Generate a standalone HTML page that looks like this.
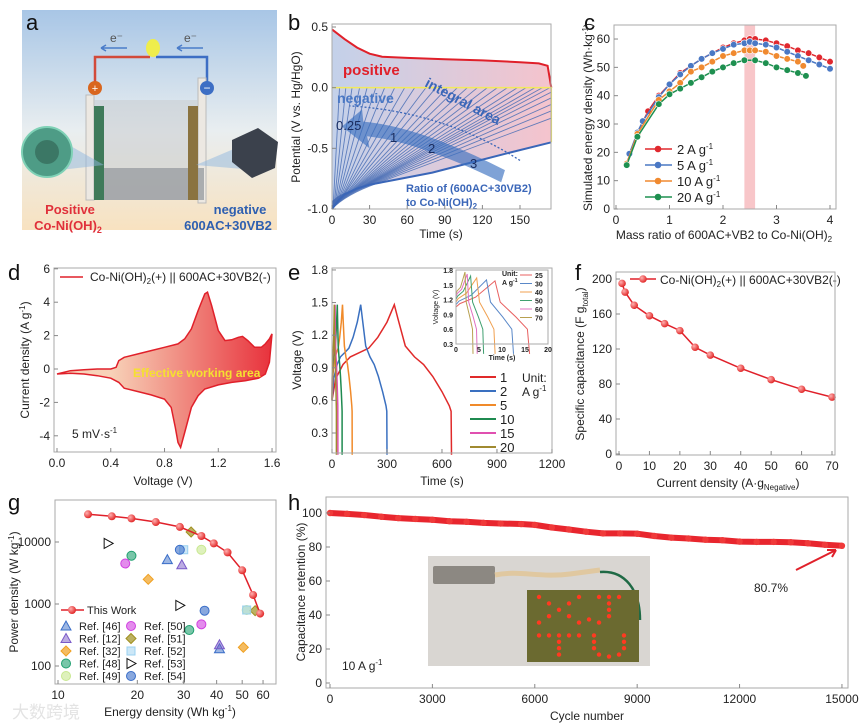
<!DOCTYPE html>
<html><head><meta charset="utf-8"><style>
html,body{margin:0;padding:0;background:#fff;width:865px;height:727px;overflow:hidden}
svg{font-family:"Liberation Sans","Noto Sans CJK SC",sans-serif;display:block}
</style></head><body>
<svg id="fig" width="865" height="727" viewBox="0 0 865 727" xmlns="http://www.w3.org/2000/svg">
<defs>
<linearGradient id="bgA" x1="0" y1="0" x2="0" y2="1"><stop offset="0" stop-color="#a8c6e6"/><stop offset="0.55" stop-color="#e9eef0"/><stop offset="1" stop-color="#f8e2c0"/></linearGradient>
<linearGradient id="fillB" x1="0" y1="0" x2="1" y2="0"><stop offset="0" stop-color="#b9c9e6"/><stop offset="1" stop-color="#f3b9c4"/></linearGradient>
<linearGradient id="fillD" x1="0" y1="0" x2="1" y2="0"><stop offset="0.25" stop-color="#f7d2b8"/><stop offset="1" stop-color="#e8323c"/></linearGradient>
<radialGradient id="ballR" cx="0.35" cy="0.35" r="0.7"><stop offset="0" stop-color="#ffb0b0"/><stop offset="1" stop-color="#e02020"/></radialGradient>
<clipPath id="clipB"><rect x="332" y="20" width="219" height="190"/></clipPath>
</defs>
<g id="panelA">
<rect x="22" y="10" width="255" height="220" fill="url(#bgA)"/>
<text x="26" y="30" font-size="22" fill="#111">a</text>
<path d="M95,82 V57 H150" stroke="#d24a3a" stroke-width="2.5" fill="none"/>
<path d="M156,57 H207 V82" stroke="#3d6ec4" stroke-width="2.5" fill="none"/>
<ellipse cx="153" cy="48" rx="7" ry="9" fill="#f4ef3a" opacity="0.9"/>
<text x="110" y="42" font-size="12" fill="#555">e⁻</text>
<text x="184" y="42" font-size="12" fill="#555">e⁻</text>
<path d="M127,48 H101 M101,48 l5,-3 M101,48 l5,3" stroke="#4a7cc9" stroke-width="1.5" fill="none"/>
<path d="M203,48 H177 M177,48 l5,-3 M177,48 l5,3" stroke="#4a7cc9" stroke-width="1.5" fill="none"/>
<rect x="86" y="95" width="8" height="105" fill="#ece8e2" stroke="#bbb"/>
<rect x="198" y="78" width="8" height="125" fill="#ece8e2" stroke="#bbb"/>
<rect x="94" y="100" width="104" height="100" fill="#c9ccd0" opacity="0.55"/>
<rect x="94" y="168" width="110" height="32" fill="#9a9ea2" opacity="0.8"/>
<rect x="94" y="106" width="10" height="94" fill="#3f7a5a"/>
<rect x="188" y="106" width="10" height="94" fill="#8a7340"/>
<circle cx="95" cy="88" r="7" fill="#d9661e"/>
<text x="95" y="92" font-size="11" fill="#fff" text-anchor="middle">+</text>
<circle cx="207" cy="88" r="7" fill="#3d6ec4"/>
<text x="207" y="92" font-size="12" fill="#fff" text-anchor="middle">−</text>
<path d="M60,140 L104,165 L60,170 Z" fill="#8fb7e0" opacity="0.5"/>
<path d="M255,140 L196,165 L255,170 Z" fill="#8fb7e0" opacity="0.5"/>
<circle cx="47" cy="152" r="25" fill="#4e9c86" stroke="#7fd1b6" stroke-width="2"/>
<circle cx="47" cy="152" r="12" fill="#2f5f50" opacity="0.6"/>
<path d="M232,140 L258,128 L278,142 L275,168 L252,178 L232,162 Z" fill="#3b414c"/>
<text x="70" y="214" font-size="13" font-weight="bold" fill="#e0303a" text-anchor="middle">Positive</text>
<text x="68" y="230" font-size="13" font-weight="bold" fill="#e0303a" text-anchor="middle">Co-Ni(OH)<tspan font-size="9" dy="3">2</tspan></text>
<text x="240" y="214" font-size="13" font-weight="bold" fill="#2e5fb0" text-anchor="middle">negative</text>
<text x="228" y="230" font-size="13" font-weight="bold" fill="#2e5fb0" text-anchor="middle">600AC+30VB2</text>
</g>
<g id="panels"></g>
</svg>
<script>
// ---------- data ----------
const bPosT=[0,10,20,30,40,60,90,120,150,165,172,175];
const bPosV=[0.48,0.40,0.33,0.28,0.255,0.245,0.235,0.225,0.21,0.2,0.18,0.0];
const bEnvT=[0,5,10,20,30,50,80,110,140,175];
const bEnvV=[-1,-0.93,-0.88,-0.83,-0.8,-0.76,-0.7,-0.62,-0.54,-0.45];
const bEndT=[6,11,16,22,28,35,42,50,58,66,75,83,92,100,108,116,124,132,140,148,155,162,168,174,182,192,205,220,240];
const cX=[0.2,0.4,0.6,0.8,1.0,1.2,1.4,1.6,1.8,2.0,2.2,2.4,2.5,2.6,2.8,3.0,3.2,3.4,3.6,3.8,4.0];
const c2A=[16,27,34.5,40,44,48,50.5,53,55,57,58.5,59.5,60,60,59.5,58.5,57.5,56,55,53.5,52];
const c5X=[0.25,0.4,0.5,0.8,1.0,1.2,1.4,1.6,1.8,2.0,2.2,2.4,2.5,2.6,2.8,3.0,3.2,3.4,3.6,3.8,4.0];
const c5A=[19.5,27,31,39.5,44,47.5,50.5,53,55,56.5,58,58.5,59,58.5,58,57,55.5,54,52.5,51,49.5];
const c10X=[0.2,0.4,0.8,1.0,1.2,1.4,1.6,1.8,2.0,2.2,2.4,2.5,2.6,2.8,3.0,3.2,3.4,3.5];
const c10A=[16,26.5,38.5,41.5,44.5,48.5,50,52,54,55,56,56,56,55.5,54,53,52,50.5];
const c20X=[0.2,0.4,0.8,1.0,1.2,1.4,1.6,1.8,2.0,2.2,2.4,2.6,2.8,3.0,3.2,3.4,3.55];
const c20A=[15.5,25.5,37,40.5,42.5,44.5,46.5,48.5,50,51.5,52.5,52.5,51.5,50,49,48,47];
const dUpV=[0,0.1,0.2,0.3,0.4,0.44,0.46,0.5,0.6,0.7,0.8,0.9,0.95,1.0,1.05,1.1,1.12,1.15,1.2,1.25,1.3,1.35,1.38,1.42,1.47,1.52,1.55,1.58,1.6];
const dUpI=[-0.3,-0.1,-0.05,0,0,0.1,0.5,0.7,0.9,1.1,1.3,1.5,1.8,2.4,3.5,4.5,4.6,3.8,2.3,1.7,1.75,1.9,1.95,1.7,1.3,1.3,1.5,1.8,2.1];
const dLoV=[1.6,1.58,1.55,1.5,1.4,1.3,1.2,1.1,1.05,1.0,0.95,0.92,0.9,0.88,0.85,0.8,0.7,0.6,0.5,0.46,0.4,0.3,0.2,0.1,0];
const dLoI=[2.1,0.4,-0.3,-0.55,-0.7,-0.8,-0.95,-1.2,-1.6,-2.3,-3.8,-4.7,-4.4,-3.5,-2.3,-1.8,-1.55,-1.35,-1.15,-0.8,-0.55,-0.4,-0.3,-0.25,-0.3];
const eShapeT=[0,20,60,100,150,200,250,300,340,360,400,450,500,550,600,640,650,652];
const eShapeV=[0.6,0.8,0.93,1.0,1.04,1.08,1.18,1.32,1.48,1.35,1.1,1.0,0.93,0.82,0.68,0.55,0.5,0.1];
const eRates=['1','2','5','10','15','20'];
const eEnds=[652,300,110,55,32,24];
const eColors=['#e02a2a','#3a70c0','#f08a2a','#1f8a50','#e050b0','#a08a30'];
const iRates=['25','30','40','50','60','70'];
const iEnds=[16,12.5,8.5,6,4.6,3.7];
const iPeaks=[1.58,1.6,1.64,1.68,1.72,1.76];
const iColors=['#e86060','#5a88c8','#f0a050','#40a070','#e070c0','#b8a050'];
const fX=[1,2,5,10,15,20,25,30,40,50,60,70];
const fY=[195,185,170,158,149,141,122,113,98,85,74,65];
const gWorkE=[13,16,19,23.5,29,35,39,44,50,55,58.5];
const gWorkP=[28000,26000,24000,21000,17500,12500,9500,6800,3500,1400,700];
const gRefNames=['Ref. [46]','Ref. [12]','Ref. [32]','Ref. [48]','Ref. [49]','Ref. [50]','Ref. [51]','Ref. [52]','Ref. [53]','Ref. [54]'];
const gRefE1=[26,29.5,22,19,35,18,32,30,15.5,29];
const gRefP1=[5200,4300,2500,6000,7500,4500,14500,7500,9500,7500];
const gRefE2=[41,41,50.5,31.5,52,35,56,52,29,36];
const gRefP2=[190,220,200,380,800,470,780,800,950,780];
const hCyc=[0,500,1000,1500,2000,2500,3000,3500,4000,4500,5000,5600,6000,6500,7000,7500,8000,8500,9000,9500,10000,10500,11000,11500,12000,12500,13000,13500,14000,14500,15000];
const hRet=[100,99.5,98.8,97.8,97,96.5,96,95.2,94.8,94.2,93.8,93.5,93,91.5,90.3,89,88,88,87.8,86.5,85.5,85,84.3,84,83.2,83,83,82.8,82.2,81.3,80.7];

// ---------- helpers ----------
const NS='http://www.w3.org/2000/svg';
const root=document.getElementById('panels');
function mk(tag,attrs,name,parent){
  const el=document.createElementNS(NS,tag);
  for(const k in attrs) el.setAttribute(k,attrs[k]);
  
  
  (parent||root).appendChild(el);
  return el;
}
function txt(x,y,s,name,extra){
  const el=mk('text',Object.assign({x:x,y:y,'font-size':'11',fill:'#222'},extra||{}),name);
  el.innerHTML=s; return el;
}
function pathOf(xs,ys,fx,fy){return xs.map((v,i)=>(i?'L':'M')+fx(v).toFixed(1)+','+fy(ys[i]).toFixed(1)).join('');}
function frame(x0,y0,x1,y1,name){
  mk('rect',{x:x0,y:y0,width:x1-x0,height:y1-y0,fill:'none',stroke:'#aaa','stroke-width':1},name);
}
function yTicks(vals,labels,fy,xl,name){
  vals.forEach((v,i)=>{
    mk('line',{x1:xl,x2:xl+4,y1:fy(v),y2:fy(v),stroke:'#888'},name+'-tick');
    txt(xl-4,fy(v)+4,labels[i],name+'-label',{'text-anchor':'end','font-size':'12'});
  });
}
function xTicks(vals,labels,fx,yb,name){
  vals.forEach((v,i)=>{
    mk('line',{x1:fx(v),x2:fx(v),y1:yb,y2:yb-4,stroke:'#888'},name+'-tick');
    txt(fx(v),yb+15,labels[i],name+'-label',{'text-anchor':'middle','font-size':'12'});
  });
}
function vtitle(x,y,s,name,fs){return txt(x,y,s,name,{'text-anchor':'middle',transform:'rotate(-90 '+x+' '+y+')','font-size':fs||'12'});}
function interp(xs,ys,x){for(let i=1;i<xs.length;i++){if(x<=xs[i]){const f=(x-xs[i-1])/(xs[i]-xs[i-1]);return ys[i-1]+f*(ys[i]-ys[i-1]);}}return ys[ys.length-1];}
const PL={'font-size':'22',fill:'#111'};

// ---------- panel b ----------
const Xb=t=>332+t*1.2533, Yb=v=>27+(0.5-v)*121.33;
txt(288,30,'b','panel-label-b',PL);
{
 let d=pathOf(bPosT,bPosV,Xb,Yb);
 for(let i=bEnvT.length-1;i>=0;i--) d+='L'+Xb(bEnvT[i]).toFixed(1)+','+Yb(bEnvV[i]).toFixed(1);
 mk('path',{d:d+'Z',fill:'url(#fillB)',opacity:0.85},'integral-area-fill');
 const g=mk('g',{'clip-path':'url(#clipB)'},'negative-curves');
 bEndT.forEach(te=>{
   const ts=te*0.15, vs=interp(bEnvT,bEnvV,ts);
   mk('path',{d:'M'+Xb(0)+','+Yb(-1)+'Q'+Xb(ts*0.3)+','+Yb(-0.88)+' '+Xb(ts)+','+Yb(vs)+'L'+Xb(te)+','+Yb(0),stroke:'#4a6fb5','stroke-width':0.9,fill:'none',opacity:0.85},'negative-curve',g);
 });
 mk('path',{d:pathOf(bEnvT,bEnvV,Xb,Yb),stroke:'#3a66b8','stroke-width':2,fill:'none'},'negative-envelope');
 mk('path',{d:pathOf(bPosT,bPosV,Xb,Yb),stroke:'#e0202a','stroke-width':2,fill:'none'},'positive-curve');
 mk('path',{d:'M'+Xb(0)+','+Yb(0)+'H'+Xb(175)+'V'+Yb(-0.45),stroke:'#f2ea5a','stroke-width':1.5,fill:'none'},'zero-line');
 mk('path',{d:'M'+Xb(135)+','+Yb(-0.78)+'Q'+Xb(70)+','+Yb(-0.45)+' '+Xb(28)+','+Yb(-0.4)+'L'+Xb(30)+','+Yb(-0.5)+'L'+Xb(8)+','+Yb(-0.32)+'L'+Xb(24)+','+Yb(-0.18)+'L'+Xb(25)+','+Yb(-0.28)+'Q'+Xb(70)+','+Yb(-0.32)+' '+Xb(138)+','+Yb(-0.68)+'Z',fill:'#3a70c0',opacity:0.65},'ratio-arrow');
 mk('path',{d:'M'+Xb(150)+','+Yb(-0.6)+'Q'+Xb(90)+','+Yb(-0.2)+' '+Xb(14)+','+Yb(-0.15),stroke:'#3a66b8','stroke-width':1.3,'stroke-dasharray':'2,2',fill:'none'},'dotted-arrow');
 txt(343,75,'positive','positive-label',{fill:'#e0202a','font-size':'15','font-weight':'bold'});
 txt(337,103,'negative','negative-label',{fill:'#4a78c4','font-size':'14','font-weight':'bold'});
 txt(424,86,'integral area','integral-area-label',{fill:'#3a66b8','font-size':'14','font-weight':'bold',transform:'rotate(28 424 86)'});
 txt(336,130,'0.25','ratio-label-025',{fill:'#1a2d60','font-size':'13'});
 txt(390,142,'1','ratio-label-1',{fill:'#1a2d60','font-size':'13'});
 txt(428,153,'2','ratio-label-2',{fill:'#1a2d60','font-size':'13'});
 txt(470,168,'3','ratio-label-3',{fill:'#1a2d60','font-size':'13'});
 txt(406,192,'Ratio of (600AC+30VB2)','ratio-caption',{fill:'#3a66b8','font-size':'11','font-weight':'bold'});
 txt(406,206,'to Co-Ni(OH)<tspan font-size="8" dy="3">2</tspan>','ratio-caption-2',{fill:'#3a66b8','font-size':'11','font-weight':'bold'});
 frame(332,24,551,209,'plot-frame-b');
 yTicks([0.5,0,-0.5,-1],['0.5','0.0','-0.5','-1.0'],Yb,332,'y-axis-b');
 xTicks([0,30,60,90,120,150],['0','30','60','90','120','150'],Xb,209,'x-axis-b');
 vtitle(300,117,'Potential (V vs. Hg/HgO)','y-axis-title-b');
 txt(441,238,'Time (s)','x-axis-title-b',{'text-anchor':'middle','font-size':'12'});
}

// ---------- panel c ----------
const Xc=r=>616+r*53.5, Yc=e=>209-e*2.833;
txt(584,30,'c','panel-label-c',PL);
mk('rect',{x:Xc(2.4),y:25,width:Xc(2.6)-Xc(2.4),height:184,fill:'#f6b8bc',opacity:0.8},'optimal-ratio-band');
const cSeries=[[cX,c2A,'#e0282e','2 A g<tspan font-size="8" dy="-5">-1</tspan>'],[c5X,c5A,'#4a78c4','5 A g<tspan font-size="8" dy="-5">-1</tspan>'],[c10X,c10A,'#f08a30','10 A g<tspan font-size="8" dy="-5">-1</tspan>'],[c20X,c20A,'#1e9050','20 A g<tspan font-size="8" dy="-5">-1</tspan>']];
cSeries.forEach((s,k)=>{
 mk('path',{d:pathOf(s[0],s[1],Xc,Yc),stroke:s[2],'stroke-width':1.5,fill:'none'},'series-line-c');
 s[0].forEach((x,i)=>mk('circle',{cx:Xc(x),cy:Yc(s[1][i]),r:3.3,fill:s[2],stroke:'#fff','stroke-width':0.6},'point-c'));
 const ly=149+k*16;
 mk('line',{x1:645,x2:672,y1:ly,y2:ly,stroke:s[2],'stroke-width':1.5},'legend-line-c');
 mk('circle',{cx:658,cy:ly,r:3.3,fill:s[2]},'legend-marker-c');
 txt(677,ly+5,s[3],'legend-entry-c',{'font-size':'13'});
});
frame(614,25,836,209,'plot-frame-c');
yTicks([0,10,20,30,40,50,60],['0','10','20','30','40','50','60'],Yc,614,'y-axis-c');
xTicks([0,1,2,3,4],['0','1','2','3','4'],Xc,209,'x-axis-c');
vtitle(592,117,'Simulated energy density (Wh·kg<tspan font-size="8" dy="-4">-1</tspan><tspan dy="4">)</tspan>','y-axis-title-c');
txt(724,239,'Mass ratio of 600AC+VB2 to Co-Ni(OH)<tspan font-size="8" dy="3">2</tspan>','x-axis-title-c',{'text-anchor':'middle','font-size':'12'});

// ---------- panel d ----------
const Xd=v=>57+v*134.4, Yd=i=>369-i*16.7;
txt(8,280,'d','panel-label-d',PL);
mk('path',{d:pathOf(dUpV,dUpI,Xd,Yd)+pathOf(dLoV,dLoI,Xd,Yd).replace('M','L')+'Z',fill:'url(#fillD)',stroke:'#e0202a','stroke-width':1.5},'cv-curve');
txt(133,377,'Effective working area','working-area-label',{fill:'#f5e030','font-size':'12','font-weight':'bold'});
mk('line',{x1:60,x2:83,y1:277,y2:277,stroke:'#e0202a','stroke-width':1.5},'legend-line-d');
txt(90,281,'Co-Ni(OH)<tspan font-size="8" dy="3">2</tspan><tspan dy="-3">(+) || 600AC+30VB2(-)</tspan>','legend-entry-d',{'font-size':'12'});
txt(72,438,'5 mV·s<tspan font-size="8" dy="-5">-1</tspan>','scan-rate-label',{'font-size':'12'});
frame(54,268,276,452,'plot-frame-d');
yTicks([6,4,2,0,-2,-4],['6','4','2','0','-2','-4'],Yd,54,'y-axis-d');
xTicks([0,0.4,0.8,1.2,1.6],['0.0','0.4','0.8','1.2','1.6'],Xd,452,'x-axis-d');
vtitle(29,360,'Current density (A g<tspan font-size="8" dy="-4">-1</tspan><tspan dy="4">)</tspan>','y-axis-title-d');
txt(163,485,'Voltage (V)','x-axis-title-d',{'text-anchor':'middle','font-size':'12'});

// ---------- panel e ----------
const Xe=t=>332+t*0.1833, Ye=v=>433-(v-0.3)*108.7;
txt(288,280,'e','panel-label-e',PL);
eRates.forEach((r,k)=>{
 const s=eEnds[k]/652;
 mk('path',{d:pathOf(eShapeT.map(t=>t*s),eShapeV,Xe,Ye),stroke:eColors[k],'stroke-width':1.5,fill:'none'},'gcd-curve-'+r);
 const ly=377+k*14;
 mk('line',{x1:470,x2:496,y1:ly,y2:ly,stroke:eColors[k],'stroke-width':2},'legend-line-e');
 txt(500,ly+5,r,'legend-entry-e',{'font-size':'13'});
});
txt(522,382,'Unit:','unit-label-e',{'font-size':'12'});
txt(522,396,'A g<tspan font-size="8" dy="-5">-1</tspan>','unit-value-e',{'font-size':'12'});
frame(332,268,552,453,'plot-frame-e');
yTicks([0.3,0.6,0.9,1.2,1.5,1.8],['0.3','0.6','0.9','1.2','1.5','1.8'],Ye,332,'y-axis-e');
xTicks([0,300,600,900,1200],['0','300','600','900','1200'],Xe,453,'x-axis-e');
vtitle(301,360,'Voltage (V)','y-axis-title-e');
txt(442,485,'Time (s)','x-axis-title-e',{'text-anchor':'middle','font-size':'12'});
// inset
const Xi=t=>456+t*4.6, Yi=v=>344-(v-0.3)*49.3;
iRates.forEach((r,k)=>{
 const e=iEnds[k], tp=e*0.53;
 const ts=[0,tp*0.1,tp*0.5,tp,tp+(e-tp)*0.15,tp+(e-tp)*0.6,e*0.97,e];
 const vs=[1.05+k*0.05,1.12+k*0.05,1.25+k*0.04,iPeaks[k],1.15,0.85,0.6,0.1];
 mk('path',{d:pathOf(ts,vs,Xi,Yi),stroke:iColors[k],'stroke-width':1,fill:'none'},'inset-gcd-curve-'+r);
 const ly=275+k*8.5;
 mk('line',{x1:520,x2:532,y1:ly,y2:ly,stroke:iColors[k],'stroke-width':1},'inset-legend-line');
 txt(535,ly+3,r,'inset-legend-entry',{'font-size':'7','font-weight':'bold'});
});
txt(502,276,'Unit:','inset-unit-label',{'font-size':'7','font-weight':'bold'});
txt(502,285,'A g<tspan font-size="5" dy="-3">-1</tspan>','inset-unit-value',{'font-size':'7','font-weight':'bold'});
frame(456,270,548,344,'inset-frame');
[0.3,0.6,0.9,1.2,1.5,1.8].forEach(v=>txt(453,Yi(v)+3,v.toFixed(1),'inset-y-label',{'text-anchor':'end','font-size':'7','font-weight':'bold'}));
[0,5,10,15,20].forEach(v=>txt(Xi(v),352,String(v),'inset-x-label',{'text-anchor':'middle','font-size':'7','font-weight':'bold'}));
vtitle(438,307,'Voltage (V)','inset-y-title','7');
txt(502,360,'Time (s)','inset-x-title',{'text-anchor':'middle','font-size':'7','font-weight':'bold'});

// ---------- panel f ----------
const Xf=j=>619+j*3.043, Yf=c=>454-c*0.875;
txt(575,280,'f','panel-label-f',PL);
mk('path',{d:pathOf(fX,fY,Xf,Yf),stroke:'#e0202a','stroke-width':1.5,fill:'none'},'capacitance-line');
fX.forEach((x,i)=>mk('circle',{cx:Xf(x),cy:Yf(fY[i]),r:3.8,fill:'url(#ballR)'},'capacitance-point'));
mk('line',{x1:630,x2:656,y1:279,y2:279,stroke:'#e0202a','stroke-width':1.5},'legend-line-f');
mk('circle',{cx:643,cy:279,r:3.8,fill:'url(#ballR)'},'legend-marker-f');
txt(660,284,'Co-Ni(OH)<tspan font-size="8" dy="3">2</tspan><tspan dy="-3">(+) || 600AC+30VB2(-)</tspan>','legend-entry-f',{'font-size':'12'});
frame(616,272,835,455,'plot-frame-f');
yTicks([0,40,80,120,160,200],['0','40','80','120','160','200'],Yf,616,'y-axis-f');
xTicks([0,10,20,30,40,50,60,70],['0','10','20','30','40','50','60','70'],Xf,455,'x-axis-f');
vtitle(584,364,'Specific capacitance (F g<tspan font-size="8" dy="4">total</tspan><tspan dy="-4">)</tspan>','y-axis-title-f');
txt(728,487,'Current density (A·g<tspan font-size="8" dy="3">Negative</tspan><tspan dy="-3">)</tspan>','x-axis-title-f',{'text-anchor':'middle','font-size':'12'});

// ---------- panel g ----------
const Xg=E=>58+Math.log10(E/10)*263.5, Yg=P=>542-(Math.log10(P)-4)*62;
txt(8,510,'g','panel-label-g',PL);
const refCol=['#3a6ec8','#7a5ac8','#f0a020','#20a070','#c8e890','#d040e0','#a09020','#9ad0f0','#111111','#3a6ec8'];
const refShape=['tri','tri','dia','circ','circ','circ','dia','sq','tr','circ'];
function marker(shape,x,y,c,name){
 const s=5;
 if(shape==='tri') return mk('path',{d:`M${x},${y-s}L${x+s},${y+s*0.8}L${x-s},${y+s*0.8}Z`,fill:c,stroke:c,'fill-opacity':0.5},name);
 if(shape==='dia') return mk('path',{d:`M${x},${y-s}L${x+s},${y}L${x},${y+s}L${x-s},${y}Z`,fill:c,stroke:c,'fill-opacity':0.7},name);
 if(shape==='sq') return mk('rect',{x:x-4,y:y-4,width:8,height:8,fill:c,stroke:c,'fill-opacity':0.5},name);
 if(shape==='tr') return mk('path',{d:`M${x-4},${y-5}L${x+5},${y}L${x-4},${y+5}Z`,fill:'#fff',stroke:c},name);
 return mk('circle',{cx:x,cy:y,r:4.5,fill:c,stroke:c,'fill-opacity':0.6},name);
}
gRefNames.forEach((n,k)=>{
 marker(refShape[k],Xg(gRefE1[k]),Yg(gRefP1[k]),refCol[k],'ref-point');
 marker(refShape[k],Xg(gRefE2[k]),Yg(gRefP2[k]),refCol[k],'ref-point');
 const col=k<5?0:1, row=k%5, lx=col?131:66, ly=626+row*12.5;
 marker(refShape[k],lx,ly,refCol[k],'legend-marker-g');
 txt(lx+13,ly+4,n,'legend-entry-g',{'font-size':'11'});
});
mk('path',{d:pathOf(gWorkE,gWorkP,Xg,Yg),stroke:'#e0202a','stroke-width':1.5,fill:'none'},'this-work-line');
gWorkE.forEach((e,i)=>mk('circle',{cx:Xg(e),cy:Yg(gWorkP[i]),r:4,fill:'url(#ballR)'},'this-work-point'));
mk('line',{x1:61,x2:84,y1:610,y2:610,stroke:'#e0202a','stroke-width':1.5},'legend-line-g');
mk('circle',{cx:72,cy:610,r:4,fill:'url(#ballR)'},'legend-marker-g');
txt(87,614,'This Work','legend-entry-this-work',{'font-size':'11'});
frame(55,500,276,684,'plot-frame-g');
yTicks([100,1000,10000],['100','1000','10000'],Yg,55,'y-axis-g');
xTicks([10,20,30,40,50,60],['10','20','30','40','50','60'],Xg,684,'x-axis-g');
vtitle(18,592,'Power density (W kg<tspan font-size="8" dy="-4">-1</tspan><tspan dy="4">)</tspan>','y-axis-title-g');
txt(170,716,'Energy density (Wh kg<tspan font-size="8" dy="-5">-1</tspan><tspan dy="5">)</tspan>','x-axis-title-g',{'text-anchor':'middle','font-size':'12'});
txt(12,718,'大数跨境','watermark',{'font-size':'17',fill:'#ddd',opacity:0.8});

// ---------- panel h ----------
const Xh=n=>330+n*0.03413, Yh=r=>683-r*1.70;
txt(288,510,'h','panel-label-h',PL);
mk('path',{d:pathOf(hCyc,hRet,Xh,Yh),stroke:'#e8262e','stroke-width':6,fill:'none','stroke-linejoin':'round'},'retention-band');
hCyc.forEach((c,i)=>mk('circle',{cx:Xh(c),cy:Yh(hRet[i]),r:3.2,fill:'#f03a3a'},'retention-point'));
txt(754,592,'80.7%','retention-final-label',{'font-size':'12'});
mk('path',{d:'M796,570 L836,550 M836,550 l-9,0 M836,550 l-4,7',stroke:'#e0202a','stroke-width':2,fill:'none'},'retention-arrow');
txt(342,670,'10 A g<tspan font-size="8" dy="-5">-1</tspan>','current-density-label-h',{'font-size':'12'});
mk('rect',{x:428,y:556,width:222,height:110,fill:'#d9d6d2'},'device-photo');
mk('rect',{x:433,y:566,width:62,height:18,fill:'#8c8882',rx:2},'photo-clamp');
mk('path',{d:'M495,575 C520,570 540,578 570,574 L600,570',stroke:'#e0c8a0','stroke-width':5,fill:'none'},'photo-cable');
mk('path',{d:'M600,572 C625,570 640,590 640,620',stroke:'#1f6a45','stroke-width':2.5,fill:'none'},'photo-wire');
mk('rect',{x:527,y:590,width:112,height:72,fill:'#6b6a30'},'photo-board');
const leds=[[0,0],[1,1],[2,2],[3,3],[4,4],[4,0],[3,1],[1,3],[0,4],[6,0],[7,0],[8,0],[7,1],[7,2],[7,3],[6,4],[5,3.5],[0,6],[1,6],[2,6],[3,6],[4,6],[2,7],[2,8],[2,9],[5.5,6],[5.5,7],[5.5,8],[6,9],[7,9.3],[8,9],[8.5,8],[8.5,7],[8.5,6]];
leds.forEach(p=>mk('circle',{cx:539+p[0]*10,cy:597+p[1]*6.4,r:2.2,fill:'#ff3a20'},'photo-led'));
frame(326,497,848,688,'plot-frame-h');
yTicks([0,20,40,60,80,100],['0','20','40','60','80','100'],Yh,326,'y-axis-h');
xTicks([0,3000,6000,9000,12000,15000],['0','3000','6000','9000','12000','15000'],Xh,688,'x-axis-h');
vtitle(305,592,'Capacitance retention (%)','y-axis-title-h');
txt(587,720,'Cycle number','x-axis-title-h',{'text-anchor':'middle','font-size':'12'});
</script>
</body></html>
